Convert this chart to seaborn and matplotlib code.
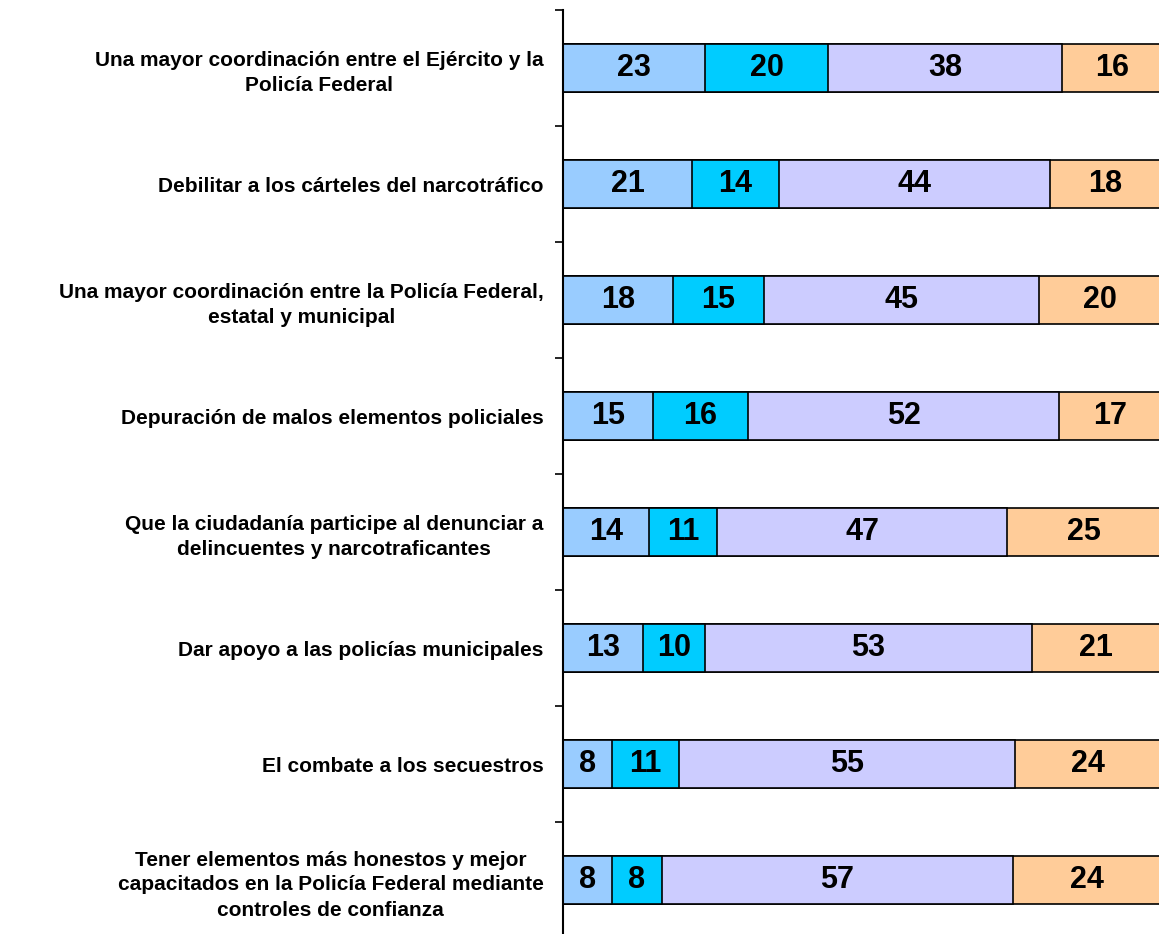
import numpy as np
import pandas as pd
import matplotlib
matplotlib.use("Agg")
import matplotlib.pyplot as plt
import seaborn as sns

sns.set_theme(style="white")
plt.rcParams['font.family'] = ['Liberation Sans', 'DejaVu Sans']
plt.rcParams['text.color'] = 'black'
plt.rcParams['ytick.color'] = 'black'
plt.rcParams['ytick.labelcolor'] = 'black'

# Data
categories = [
    "Una mayor coordinación entre el Ejército y la\nPolicía Federal",
    "Debilitar a los cárteles del narcotráfico",
    "Una mayor coordinación entre la Policía Federal,\nestatal y municipal",
    "Depuración de malos elementos policiales",
    "Que la ciudadanía participe al denunciar a\ndelincuentes y narcotraficantes",
    "Dar apoyo a las policías municipales",
    "El combate a los secuestros",
    "Tener elementos más honestos y mejor\ncapacitados en la Policía Federal mediante\ncontroles de confianza",
]
serie_1 = [23, 21, 18, 15, 14, 13, 8, 8]
serie_2 = [20, 14, 15, 16, 11, 10, 11, 8]
serie_3 = [38, 44, 45, 52, 47, 53, 55, 57]
serie_4 = [16, 18, 20, 17, 25, 21, 24, 24]

colors = ["#99CCFF", "#00CCFF", "#CCCCFF", "#FFCC99"]

# 100% stacked: normalise each row
vals = np.array([serie_1, serie_2, serie_3, serie_4], dtype=float).T
pct = vals / vals.sum(axis=1, keepdims=True) * 100
cum = pct.cumsum(axis=1)

df = pd.DataFrame(cum, columns=["s1", "s2", "s3", "s4"])
df["cat"] = categories

W, H = 1159, 934
fig = plt.figure(figsize=(W / 100, H / 100), dpi=100)
ax = fig.add_axes([563 / W, -4 / H, (1161 - 563) / W, 928 / H])

# draw cumulative bars from the right-most segment back to the left
for col, c in zip(["s4", "s3", "s2", "s1"], colors[::-1]):
    sns.barplot(data=df, y="cat", x=col, orient="h", color=c, width=0.41,
                edgecolor="black", linewidth=1.2, saturation=1, ax=ax)

# value labels in the middle of each segment
for i in range(len(categories)):
    left = 0
    for j in range(4):
        ax.text(left + pct[i, j] / 2, i, f"{int(vals[i, j])}", ha="center",
                va="center", fontsize=22, fontweight="bold", color="black")
        left += pct[i, j]

ax.set_xlim(0, 100)
ax.set_ylim(len(categories) - 0.5, -0.5)
ax.set_xlabel("")
ax.set_ylabel("")
ax.set_xticks([])

ax.set_yticks(range(len(categories)))
ax.set_yticklabels(categories, fontsize=15, fontweight="bold",
                   multialignment="center", linespacing=1.4, color="black")
ax.tick_params(axis="y", which="major", length=0, pad=14)
ax.set_yticks(np.arange(-0.5, len(categories), 1), minor=True)
ax.tick_params(axis="y", which="minor", length=6, width=1.2, direction="out",
               color="black", left=True)

for s in ["top", "right", "bottom"]:
    ax.spines[s].set_visible(False)
ax.spines["left"].set_color("black")
ax.spines["left"].set_linewidth(1.5)
ax.patch.set_alpha(0)

fig.savefig("out.png", dpi=100)
